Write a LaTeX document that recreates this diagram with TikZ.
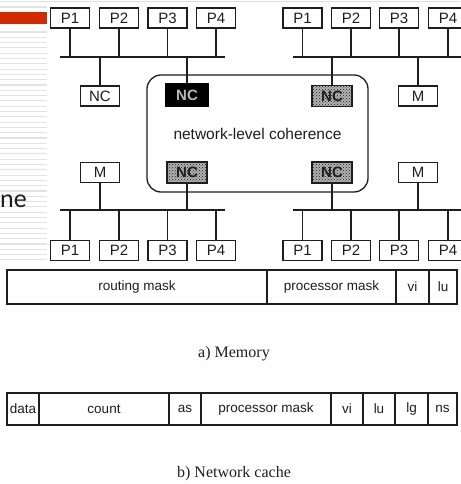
\documentclass[tikz,border=0pt]{standalone}
\usepackage{fontspec}
\setmainfont{Liberation Serif}
\setsansfont{Liberation Sans}
\newfontfamily\calib{Carlito}
\usetikzlibrary{patterns}
\definecolor{slidered}{HTML}{D42A00}
\definecolor{ink}{HTML}{1E1E1E}
\tikzset{
  pbox/.style={draw=ink, line width=1.1pt, minimum width=39pt, minimum height=20pt, inner sep=0pt,
    font=\sffamily\fontsize{15}{15}\selectfont, text=ink},
  ncgray/.style={draw=ink, line width=1.1pt, minimum width=40pt, minimum height=21pt, inner sep=0pt,
    preaction={fill=gray!60}, pattern=crosshatch dots, pattern color=ink,
    font=\sffamily\bfseries\fontsize{15}{15}\selectfont, text=ink},
  ncblack/.style={draw=black, line width=1.1pt, fill=black, minimum width=43pt, minimum height=22pt, inner sep=0pt,
    font=\sffamily\bfseries\fontsize{15}{15}\selectfont, text=gray!55},
  wire/.style={draw=ink, line width=1.3pt},
  cell/.style={draw=ink, line width=1.2pt, inner sep=0pt, font=\sffamily\fontsize{13.5}{13.5}\selectfont, text=ink},
  captxt/.style={font=\rmfamily\fontsize{16}{16}\selectfont, text=ink, inner sep=0pt},
  stripe/.style={draw=gray!22, line width=1.1pt}
}
\begin{document}
\begin{tikzpicture}[x=1pt,y=-1pt]
\useasboundingbox (0,0) rectangle (460,484);
\fill[white] (0,0) rectangle (460,484);
% slide remnants
\draw[draw=gray!25, line width=1pt] (0,2) -- (460,2);
\foreach \yy in {7,32,37.3,...,262} { \draw[stripe] (0,\yy) -- (47,\yy); }
\fill[slidered] (0,12) rectangle (47,24.5);
\node[anchor=base west, inner sep=0pt, font=\calib\fontsize{26}{26}\selectfont, text=ink] (frag) at (0,207) {ne};

% ---------- top-left cluster ----------
\node[pbox] (tlp1) at (70,18) {P1};
\node[pbox] (tlp2) at (119,18) {P2};
\node[pbox] (tlp3) at (167.5,18) {P3};
\node[pbox] (tlp4) at (216,18) {P4};
\coordinate (tlbw) at (60,57);
\coordinate (tlbe) at (225,57);
\draw[wire] (tlbw) -- (tlbe);
\foreach \n in {tlp1,tlp2,tlp3,tlp4} { \draw[wire] (\n.south) -- (\n.south |- tlbw); }
\node[pbox] (tlnc) at (100,96) {NC};
\node[ncblack] (tlnet) at (187,95) {NC};
\draw[wire] (tlnc.north) -- (tlnc.north |- tlbw);
\draw[wire] (tlnet.north) -- (tlnet.north |- tlbw);

% ---------- top-right cluster ----------
\node[pbox] (trp1) at (302.5,18) {P1};
\node[pbox] (trp2) at (351,18) {P2};
\node[pbox] (trp3) at (399,18) {P3};
\node[pbox] (trp4) at (448,18) {P4};
\coordinate (trbw) at (293,57);
\coordinate (trbe) at (466,57);
\draw[wire] (trbw) -- (trbe);
\foreach \n in {trp1,trp2,trp3,trp4} { \draw[wire] (\n.south) -- (\n.south |- trbw); }
\node[ncgray] (trnet) at (332,96) {NC};
\node[pbox] (trm) at (418,96) {M};
\draw[wire] (trnet.north) -- (trnet.north |- trbw);
\draw[wire] (trm.north) -- (trm.north |- trbw);

% ---------- network-level coherence ----------
\node[draw=ink, line width=1.3pt, rounded corners=14pt, minimum width=221pt, minimum height=117pt,
  inner sep=0pt, font=\sffamily\fontsize{15.5}{15.5}\selectfont, text=ink] (net) at (257.5,133.5) {network-level coherence};

% ---------- bottom-left cluster ----------
\node[pbox] (blm) at (100,172.5) {M};
\node[ncgray] (blnet) at (187,172.5) {NC};
\coordinate (blbw) at (60,210);
\coordinate (blbe) at (225,210);
\draw[wire] (blbw) -- (blbe);
\draw[wire] (blm.south) -- (blm.south |- blbw);
\draw[wire] (blnet.south) -- (blnet.south |- blbw);
\node[pbox] (blp1) at (70,250.5) {P1};
\node[pbox] (blp2) at (119,250.5) {P2};
\node[pbox] (blp3) at (167.5,250.5) {P3};
\node[pbox] (blp4) at (216,250.5) {P4};
\foreach \n in {blp1,blp2,blp3,blp4} { \draw[wire] (\n.north) -- (\n.north |- blbw); }

% ---------- bottom-right cluster ----------
\node[ncgray] (brnet) at (332,172.5) {NC};
\node[pbox] (brm) at (418,172.5) {M};
\coordinate (brbw) at (293,210);
\coordinate (brbe) at (466,210);
\draw[wire] (brbw) -- (brbe);
\draw[wire] (brnet.south) -- (brnet.south |- brbw);
\draw[wire] (brm.south) -- (brm.south |- brbw);
\node[pbox] (brp1) at (302.5,250.5) {P1};
\node[pbox] (brp2) at (351,250.5) {P2};
\node[pbox] (brp3) at (399,250.5) {P3};
\node[pbox] (brp4) at (448,250.5) {P4};
\foreach \n in {brp1,brp2,brp3,brp4} { \draw[wire] (\n.north) -- (\n.north |- brbw); }

% ---------- memory entry ----------
\node[cell, minimum width=260pt, minimum height=34pt] (mroute) at (137,287) {routing mask};
\node[cell, minimum width=129pt, minimum height=34pt] (mproc) at (331.5,287) {processor mask};
\node[cell, minimum width=33pt, minimum height=34pt] (mvi) at (412.5,287) {vi};
\node[cell, minimum width=28pt, minimum height=34pt] (mlu) at (443,287) {lu};
\node[captxt] (capa) at (234,354) {a) Memory};

% ---------- network cache entry ----------
\node[cell, minimum width=32pt, minimum height=32pt] (cdata) at (23,409) {data};
\node[cell, minimum width=130pt, minimum height=32pt] (ccount) at (104,409) {count};
\node[cell, minimum width=32pt, minimum height=32pt] (cas) at (185,409) {as};
\node[cell, minimum width=130pt, minimum height=32pt] (cproc) at (266,409) {processor mask};
\node[cell, minimum width=32pt, minimum height=32pt] (cvi) at (347,409) {vi};
\node[cell, minimum width=32pt, minimum height=32pt] (clu) at (379,409) {lu};
\node[cell, minimum width=33pt, minimum height=32pt] (clg) at (411.5,409) {lg};
\node[cell, minimum width=29pt, minimum height=32pt] (cns) at (442.5,409) {ns};
\node[captxt] (capb) at (234,474) {b) Network cache};
\end{tikzpicture}
\end{document}
